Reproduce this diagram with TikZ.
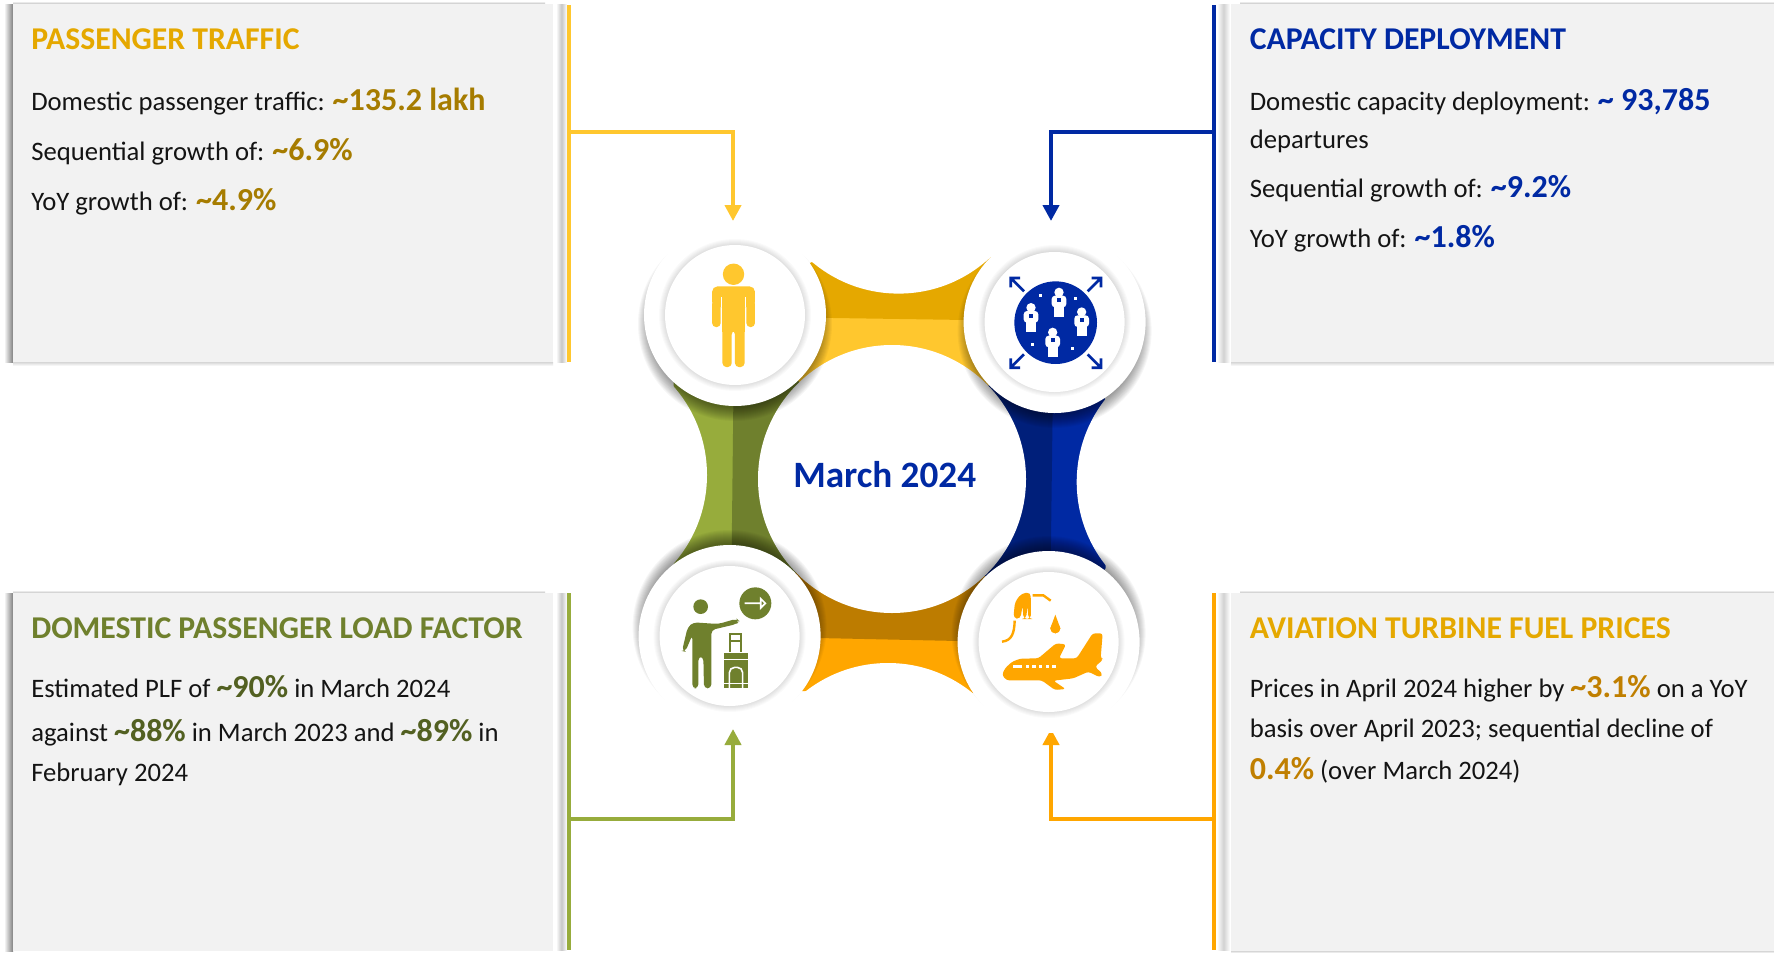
\documentclass[tikz,border=0pt]{standalone}
\usepackage{fontspec}
\setmainfont{Carlito}
\definecolor{cYel}{HTML}{FFC72E}\definecolor{cYelD}{HTML}{E5A800}\definecolor{cYelH}{HTML}{A67C00}
\definecolor{cBlu}{HTML}{0029A3}\definecolor{cBluD}{HTML}{001F7A}
\definecolor{cGrn}{HTML}{97AC3C}\definecolor{cGrnD}{HTML}{6F802D}\definecolor{cGrnH}{HTML}{526021}
\definecolor{cOrg}{HTML}{FFA600}\definecolor{cOrgD}{HTML}{BD7C00}\definecolor{cOrgH}{HTML}{C07F00}
\definecolor{cPanel}{HTML}{F2F2F2}
\newcommand\softshadow[5]{\foreach \i in {0,...,#5}{\fill[black,opacity=#4] (#1,#2) circle[radius=#3+\i];}}
\newcommand\hlt[2]{{\fontsize{24}{28}\selectfont\bfseries\color{#1}#2}}
\newcommand\crowdman[2]{%
  \fill[white] (#1,#2) circle[radius=14];
  \fill[white,rounded corners=2.5pt] (#1-22,#2+45) -- (#1-22,#2+10) -- (#1+22,#2+10) -- (#1+22,#2+45) -- cycle;
  \fill[white] (#1-15,#2+40) rectangle (#1+15,#2+73);
  \fill[cBlu] (#1-6,#2+18) rectangle (#1+6,#2+30);}
\tikzset{
  txt/.style={anchor=base west,inner sep=0pt,font=\fontsize{20}{24}\selectfont,text=black!92},
  ttl/.style={anchor=base west,inner sep=0pt,font=\fontsize{23.8}{28}\selectfont\bfseries},
  link/.style={line width=3pt},
  tip/.style={-{Triangle[length=12pt,width=12pt]},line width=3pt},
  panelbox/.style={fill=cPanel},
}
\usetikzlibrary{arrows.meta}
\begin{document}
\begin{tikzpicture}[x=0.75pt,y=-0.75pt]
\useasboundingbox (0,0) rectangle (1774,953);
\fill[white] (0,0) rectangle (1774,953);
% named points
\coordinate (tl) at (735,315); \coordinate (tr) at (1054.6,322);
\coordinate (bl) at (729.6,636); \coordinate (br) at (1048.6,642);
\coordinate (mid) at (892,479);
% bands
\begin{scope}
 \clip (811,262.5) -- (991,257) -- (tr) -- (mid) -- (tl) -- cycle;
 \fill[cYel] (700,100) rectangle (1100,500);
 \fill[cYelD] (700,316) -- (1100,322) -- (1100,100) -- (700,100) -- cycle;
\end{scope}
\begin{scope}
 \clip (802,691) -- (973.6,693) -- (br) -- (mid) -- (bl) -- cycle;
 \fill[cOrg] (700,400) rectangle (1100,800);
 \fill[cOrgD] (700,635.5) -- (1100,644) -- (1100,400) -- (700,400) -- cycle;
\end{scope}
\begin{scope}
 \clip (673.6,382) -- (673.6,568) -- (bl) -- (mid) -- (tl) -- cycle;
 \fill[cGrn] (600,300) rectangle (900,700);
 \fill[cGrnD] (734.5,300) -- (730,700) -- (900,700) -- (900,300) -- cycle;
\end{scope}
\begin{scope}
 \clip (1105.7,400) -- (1105.7,568) -- (br) -- (mid) -- (tr) -- cycle;
 \fill[cBlu] (880,300) rectangle (1200,700);
 \fill[cBluD] (1054,300) -- (1049,700) -- (880,700) -- (880,300) -- cycle;
\end{scope}
% concave white cuts
\fill[white] (898.6,159.6) circle[radius=134];
\fill[white] (888,797) circle[radius=134];
\fill[white] (573,475) circle[radius=134];
\fill[white] (1210.7,482) circle[radius=134];
% panels: shadows
\shade[left color=white,right color=black!50] (4,4) rectangle (13,362);
\shade[left color=white,right color=black!50] (4,593) rectangle (13,951);
\shade[top color=white,bottom color=black!25] (13,1) rectangle (545,4);
\shade[top color=white,bottom color=black!25] (13,590) rectangle (545,593);
\shade[top color=black!16,bottom color=white] (13,362) rectangle (553,366);
\shade[top color=white,bottom color=black!25] (1240,1) rectangle (1774,4);
\shade[top color=white,bottom color=black!25] (1240,590) rectangle (1774,593);
\shade[top color=black!16,bottom color=white] (1231,362) rectangle (1774,366);
\shade[top color=black!16,bottom color=white] (1231,951) rectangle (1774,953);
\shade[left color=white,right color=white,middle color=black!22] (556,4) rectangle (567,362);
\shade[left color=white,right color=white,middle color=black!22] (556,593) rectangle (567,950);
\shade[left color=white,right color=white,middle color=black!18] (1217,4) rectangle (1230,362);
\shade[left color=white,right color=white,middle color=black!18] (1217,593) rectangle (1230,950);
% panels
\fill[panelbox] (13,4) rectangle (553,362);
\fill[panelbox] (13,593) rectangle (553,951);
\fill[panelbox] (1231,4) rectangle (1774,362);
\fill[panelbox] (1231,593) rectangle (1774,951);
% connectors
\coordinate (ya) at (569,5); \coordinate (yb) at (569,362); \coordinate (yj) at (569,131.5); \coordinate (ye) at (733,221);
\coordinate (ba) at (1214,5); \coordinate (bb) at (1214,362); \coordinate (bj) at (1214,131.5); \coordinate (be) at (1051,221);
\coordinate (ga) at (569,593); \coordinate (gb) at (569,950); \coordinate (gj) at (569,819); \coordinate (ge) at (733,729);
\coordinate (oa) at (1214,593); \coordinate (ob) at (1214,950); \coordinate (oj) at (1214,819); \coordinate (oe) at (1051,729);
\draw[link,cYel] (ya) -- (yb); \draw[tip,cYel] (yj) -| (ye);
\draw[link,cBlu] (ba) -- (bb); \draw[tip,cBlu] (bj) -| (be);
\draw[link,cGrn] (ga) -- (gb); \draw[tip,cGrn] (gj) -| (ge);
\draw[link,cOrg] (oa) -- (ob); \draw[tip,cOrg] (oj) -| (oe);
% centre
\fill[white] (mid) circle[radius=134];
% corner discs
\softshadow{735}{324}{84}{0.035}{13}
\softshadow{1054.6}{331}{84}{0.035}{13}
\softshadow{729.6}{627}{84}{0.035}{13}
\softshadow{1048.6}{633}{84}{0.035}{13}
\fill[white] (tl) circle[radius=91]; \fill[white] (tr) circle[radius=91];
\fill[white] (bl) circle[radius=91]; \fill[white] (br) circle[radius=91];
\softshadow{735}{315}{70}{0.02}{6}
\softshadow{1054.6}{321}{70}{0.02}{6}
\softshadow{729.6}{636}{70}{0.02}{6}
\softshadow{1048.6}{642}{70}{0.02}{6}
\fill[white] (tl) circle[radius=70]; \fill[white] (tr) circle[radius=70];
\fill[white] (bl) circle[radius=70]; \fill[white] (br) circle[radius=70];
% person icon (zoom coordinates)
\begin{scope}[shift={(620,200)},scale=0.357]
 \fill[cYel] (318,208) circle[radius=30];
 \fill[cYel,rounded corners=4pt] (258,300) -- (258,242) -- (378,242) -- (378,300) -- cycle;
 \fill[cYel,rounded corners=3pt] (258,280) rectangle (282,356);
 \fill[cYel,rounded corners=3pt] (354,280) rectangle (378,356);
 \fill[cYel] (287,262) rectangle (349,370);
 \fill[cYel,rounded corners=3pt] (287,350) -- (287,468) -- (313,468) -- (313,365) -- (322,365) -- (322,468) -- (349,468) -- (349,350) -- cycle;
 \draw[white,line width=0.7pt] (284.5,272) -- (284.5,300) (351.5,272) -- (351.5,300);
\end{scope}
% crowd icon
\begin{scope}[shift={(960,230)},scale=1/3]
 \fill[cBlu] (287,278) circle[radius=124];
 \crowdman{297}{187} \crowdman{213}{233} \crowdman{365}{246} \crowdman{278}{307}
 \foreach \px/\py in {241/196,347/205,218/343,337/356} {\fill[white] (\px-4,\py-4) rectangle (\px+4,\py+4);}
 \draw[cBlu,line width=2pt] (152,172) -- (152,144) -- (180,144) (152,144) -- (192,184);
 \draw[cBlu,line width=2pt] (395,144) -- (423,144) -- (423,172) (423,144) -- (383,184);
 \draw[cBlu,line width=2pt] (152,385) -- (152,413) -- (180,413) (152,413) -- (192,373);
 \draw[cBlu,line width=2pt] (395,413) -- (423,413) -- (423,385) (423,413) -- (383,373);
\end{scope}
% passenger + luggage icon
\begin{scope}[shift={(640,550)},scale=1/3]
 \fill[cGrnD] (346,160) circle[radius=48];
 \draw[white,line width=1.3pt] (314,160) -- (360,160) (362,146) -- (376,160) -- (362,174) -- cycle;
 \fill[cGrnD] (182,170) circle[radius=22];
 \fill[cGrnD,rounded corners=3pt] (126,303) -- (143,232) -- (160,217) -- (235,222) -- (290,206) -- (298,213) -- (290,222) -- (214,240) -- (214,415) -- (192,415) -- (190,320) -- (175,320) -- (175,415) -- (157,415) -- (157,255) -- (136,305) -- cycle;
 \draw[cGrnD,line width=1.6pt] (270,305) -- (270,252) -- (303,252) -- (303,305) (270,272) -- (303,272);
 \fill[cGrnD] (252,310) rectangle (323,415);
 \draw[white,line width=1.2pt] (252,328) -- (323,328) (252,401) -- (323,401);
 \draw[white,line width=1.2pt,rounded corners=4pt] (268,415) -- (268,352) -- (308,352) -- (308,415);
\end{scope}
% fuel + aircraft icon
\begin{scope}[shift={(960,550)},scale=1/3]
 \draw[cOrg,line width=1.8pt] (126,275) .. controls (155,272) and (163,250) .. (164,212);
 \fill[cOrg,rounded corners=3pt] (160,205) -- (165,155) -- (185,130) -- (212,127) -- (213,207) -- (205,207) -- (203,165) -- (198,207) -- (190,207) -- (188,165) -- (181,207) -- cycle;
 \draw[cOrg,line width=1.8pt] (218,136) -- (250,136) -- (272,152);
 \fill[cOrg] (286,194) -- (271,235) arc[start angle=180,end angle=0,radius=15] -- cycle;
 \fill[cOrg] (286,235) circle[radius=15];
 \fill[cOrg,rounded corners=2pt] (126,375) -- (135,355) -- (155,336) -- (180,326) -- (235,325) -- (288,280) -- (318,283) -- (297,325) -- (350,325) -- (398,250) -- (428,250) -- (422,325) -- (430,328) -- (405,350) -- (428,372) -- (420,382) -- (385,365) -- (340,385) -- (280,392) -- (317,417) -- (285,420) -- (245,391) -- (140,391) -- cycle;
 \fill[white] (160,345) rectangle (185,353);
 \foreach \wx in {197,217,237,257,277} {\fill[white] (\wx,345) rectangle (\wx+10,354);}
\end{scope}
% texts
\node[anchor=base west,inner sep=0pt,font=\fontsize{27.9}{32}\selectfont\bfseries,text=cBlu] (centre) at (793,487) {March 2024};
\node[ttl,text=cYelD] (t1) at (31,49) {PASSENGER TRAFFIC};
\node[txt] (t1a) at (31,110) {Domestic passenger traffic: \hlt{cYelH}{\textasciitilde135.2 lakh}};
\node[txt] (t1b) at (31,160) {Sequential growth of: \hlt{cYelH}{\textasciitilde6.9\%}};
\node[txt] (t1c) at (31,210) {YoY growth of: \hlt{cYelH}{\textasciitilde4.9\%}};
\node[ttl,text=cBlu] (t2) at (1249.5,49) {CAPACITY DEPLOYMENT};
\node[txt] (t2a) at (1249.5,110) {Domestic capacity deployment: \hlt{cBlu}{\textasciitilde{} 93,785}};
\node[txt] (t2b) at (1249.5,148) {departures};
\node[txt] (t2c) at (1249.5,197) {Sequential growth of: \hlt{cBlu}{\textasciitilde9.2\%}};
\node[txt] (t2d) at (1249.5,247) {YoY growth of: \hlt{cBlu}{\textasciitilde1.8\%}};
\node[ttl,text=cGrnD] (t3) at (31,638) {DOMESTIC PASSENGER LOAD FACTOR};
\node[txt] (t3a) at (31,697) {Estimated PLF of \hlt{cGrnH}{\textasciitilde90\%} in March 2024};
\node[txt] (t3b) at (31,741) {against \hlt{cGrnH}{\textasciitilde88\%} in March 2023 and \hlt{cGrnH}{\textasciitilde89\%} in};
\node[txt] (t3c) at (31,781) {February 2024};
\node[ttl,text=cYelD] (t4) at (1249.5,638) {AVIATION TURBINE FUEL PRICES};
\node[txt] (t4a) at (1249.5,697) {Prices in April 2024 higher by \hlt{cOrgH}{\textasciitilde3.1\%} on a YoY};
\node[txt] (t4b) at (1249.5,737) {basis over April 2023; sequential decline of};
\node[txt] (t4c) at (1249.5,779) {\hlt{cOrgH}{0.4\%} (over March 2024)};
\end{tikzpicture}
\end{document}
